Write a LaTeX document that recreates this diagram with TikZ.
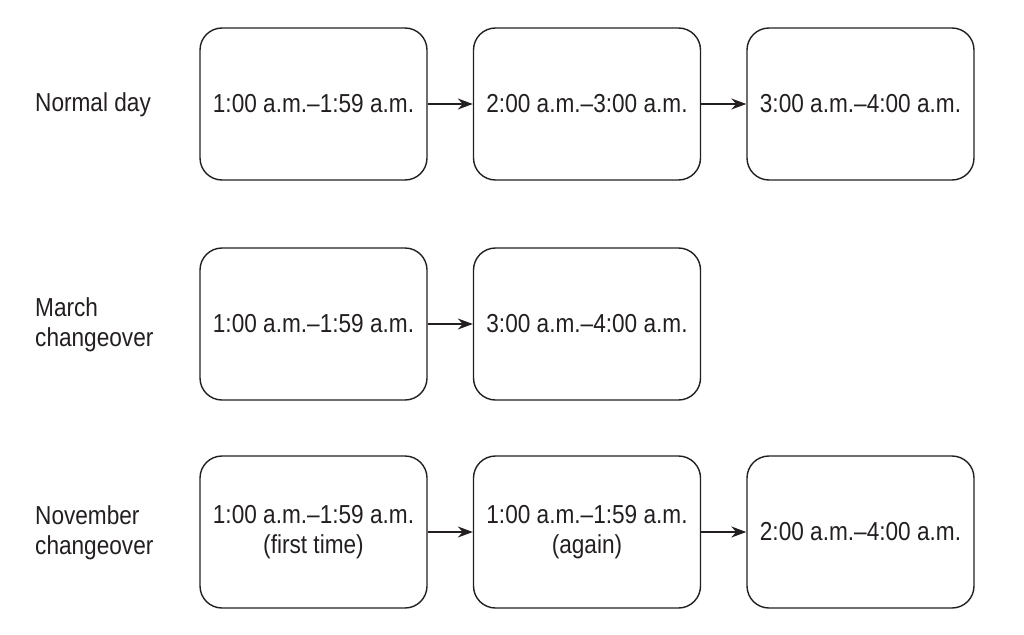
\documentclass[tikz,border=0pt]{standalone}
\usepackage{fontspec}
\setmainfont{Liberation Sans}[FakeStretch=0.87]
\usetikzlibrary{arrows.meta}
\definecolor{ink}{HTML}{231F20}
\begin{document}
\begin{tikzpicture}[x=1pt,y=-1pt,
  tbox/.style={draw=ink,line width=1.4pt,rounded corners=22pt,minimum width=227pt,minimum height=152pt,
    align=center,text=ink,inner sep=0pt,font=\fontsize{26}{30}\selectfont},
  rowlabel/.style={anchor=west,align=left,text=ink,inner sep=0pt,font=\fontsize{26}{30}\selectfont},
  arr/.style={draw=ink,line width=1.4pt,-{Stealth[length=15pt,width=11pt]}}]
\useasboundingbox (0,0) rectangle (1024,634);
% row labels
\node[rowlabel] (l1) at (35,105) {Normal day};
\node[rowlabel] (l2) at (35,325) {March\\changeover};
\node[rowlabel] (l3) at (35,533) {November\\changeover};
% row 1
\node[tbox] (a1) at (313.5,104) {1:00 a.m.–1:59 a.m.};
\node[tbox] (a2) at (587,104) {2:00 a.m.–3:00 a.m.};
\node[tbox] (a3) at (860.5,104) {3:00 a.m.–4:00 a.m.};
% row 2
\node[tbox] (b1) at (313.5,324) {1:00 a.m.–1:59 a.m.};
\node[tbox] (b2) at (587,324) {3:00 a.m.–4:00 a.m.};
% row 3
\node[tbox] (c1) at (313.5,532) {1:00 a.m.–1:59 a.m.\\(first time)};
\node[tbox] (c2) at (587,532) {1:00 a.m.–1:59 a.m.\\(again)};
\node[tbox] (c3) at (860.5,532) {2:00 a.m.–4:00 a.m.};
% arrows
\draw[arr] (a1) -- (a2);
\draw[arr] (a2) -- (a3);
\draw[arr] (b1) -- (b2);
\draw[arr] (c1) -- (c2);
\draw[arr] (c2) -- (c3);
\end{tikzpicture}
\end{document}
